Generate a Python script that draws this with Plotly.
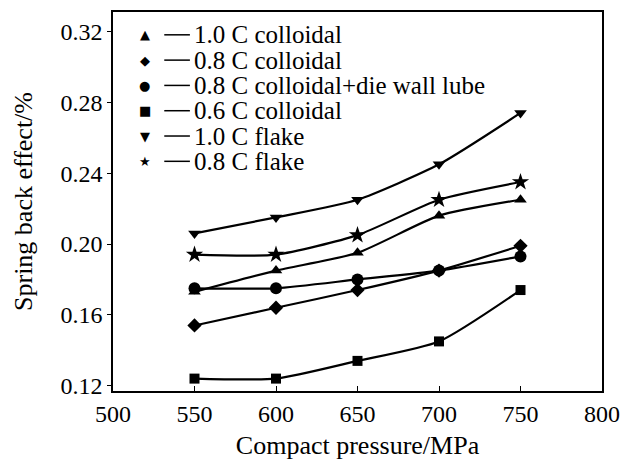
import plotly.graph_objects as go

pressure = [550, 600, 650, 700, 750]
c10_colloidal = [0.173, 0.185, 0.195, 0.216, 0.225]
c08_colloidal = [0.154, 0.164, 0.174, 0.185, 0.199]
c08_colloidal_lube = [0.175, 0.175, 0.180, 0.185, 0.193]
c06_colloidal = [0.124, 0.124, 0.134, 0.145, 0.174]
c10_flake = [0.206, 0.215, 0.225, 0.245, 0.274]
c08_flake = [0.194, 0.194, 0.205, 0.225, 0.235]

series_names = ["1.0 C colloidal", "0.8 C colloidal", "0.8 C colloidal+die wall lube",
                "0.6 C colloidal", "1.0 C flake", "0.8 C flake"]
series_values = [c10_colloidal, c08_colloidal, c08_colloidal_lube, c06_colloidal, c10_flake, c08_flake]
symbols = ["triangle-up", "diamond", "circle", "square", "triangle-down", "star"]
glyphs = ["▲", "◆", "●", "■", "▼", "★"]
sizes = [11, 11, 12, 10, 11, 13]

x_ticks = [500, 550, 600, 650, 700, 750, 800]
y_ticks = [0.12, 0.16, 0.20, 0.24, 0.28, 0.32]

FONT = "Liberation Serif"

fig = go.Figure()
for name, vals, sym, sz in zip(series_names, series_values, symbols, sizes):
    fig.add_trace(go.Scatter(
        x=pressure, y=vals, name=name, mode="lines+markers",
        line=dict(color="black", width=2.2, shape="spline", smoothing=0.6),
        marker=dict(symbol=sym, size=sz, color="black"),
        showlegend=False,
    ))

W, H = 630, 465
L, R, T, B = 113, 21, 10, 73
pw, ph = W - L - R, H - T - B

annotations = []
shapes = []
row_y0 = 33
row_dy = 25.5
for i, (name, g) in enumerate(zip(series_names, glyphs)):
    ypx = row_y0 + i * row_dy
    yp = 1 - (ypx - T) / ph
    annotations.append(dict(xref="paper", yref="paper", x=(145 - L) / pw, y=yp,
                            text=g, showarrow=False, xanchor="center", yanchor="middle",
                            font=dict(family="DejaVu Sans", size=13, color="black")))
    shapes.append(dict(type="line", xref="paper", yref="paper",
                       x0=(165 - L) / pw, x1=(191 - L) / pw, y0=yp, y1=yp,
                       line=dict(color="black", width=1.5)))
    annotations.append(dict(xref="paper", yref="paper", x=(193 - L) / pw, y=yp,
                            text=name, showarrow=False, xanchor="left", yanchor="middle",
                            font=dict(family=FONT, size=25, color="black")))

fig.update_layout(
    width=W, height=H,
    margin=dict(l=L, r=R, t=T, b=B),
    paper_bgcolor="white", plot_bgcolor="white",
    font=dict(family=FONT, color="black", size=22),
    annotations=annotations, shapes=shapes,
    xaxis=dict(range=[500, 800], tickvals=x_ticks, ticktext=[str(v) for v in x_ticks],
               showgrid=False, zeroline=False, showline=True, linecolor="black", linewidth=1.5,
               mirror=True, ticks="inside", ticklen=5, tickcolor="black",
               tickfont=dict(size=24),
               title=dict(text="Compact pressure/MPa", font=dict(size=26), standoff=10)),
    yaxis=dict(range=[0.117, 0.331], tickvals=y_ticks, ticktext=["%.2f" % v for v in y_ticks],
               showgrid=False, zeroline=False, showline=True, linecolor="black", linewidth=1.5,
               mirror=True, ticks="outside", ticklen=4, tickcolor="black",
               tickfont=dict(size=24),
               title=dict(text="Spring back effect/%", font=dict(size=26), standoff=20)),
)

fig.write_html("out.html")
